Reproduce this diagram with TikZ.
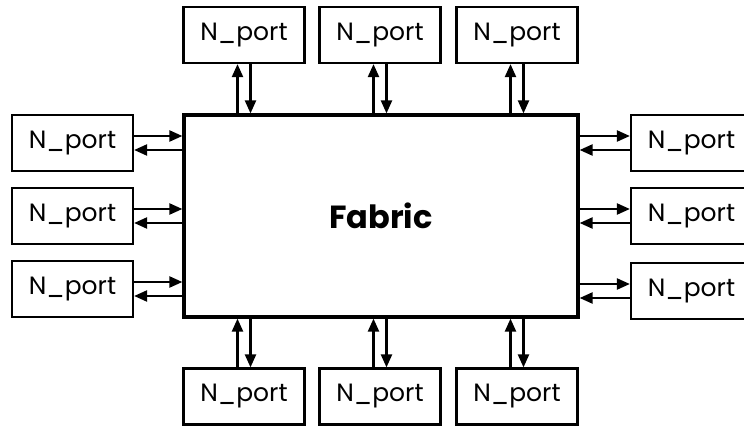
\documentclass[tikz,border=0pt]{standalone}
\usepackage{fontspec}
\setmainfont{Poppins}
\usetikzlibrary{arrows.meta}

\begin{document}
\begin{tikzpicture}[
  x=1pt,y=-1pt,
  port/.style={
    draw,
    line width=2.2pt,
    minimum width=121pt,
    minimum height=56pt,
    inner sep=0pt,
    font=\fontsize{25}{25}\selectfont
  },
  fabric/.style={
    draw,
    line width=3.2pt,
    minimum width=394pt,
    minimum height=202pt,
    font=\fontsize{32}{32}\selectfont\bfseries
  },
  link/.style={line width=2.2pt,-{Triangle[length=13pt,width=11pt]}}
]
  \useasboundingbox (0,0) rectangle (744,427);
  \clip (0,0) rectangle (744,427);

  \node[fabric] (fab) at (381,216) {Fabric};

  % Ports above and below the fabric.
  \foreach \i/\x in {1/244,2/380,3/517} {
    \node[port] (top\i) at (\x,35) {N\_port};
    \node[port] (bot\i) at (\x,396.5) {N\_port};
    \draw[link] ([xshift=-6.5pt]top\i.south |- fab.north)
      -- ([xshift=-6.5pt]top\i.south);
    \draw[link] ([xshift=6.5pt]top\i.south)
      -- ([xshift=6.5pt]top\i.south |- fab.north);
    \draw[link] ([xshift=-6.5pt]bot\i.north)
      -- ([xshift=-6.5pt]bot\i.north |- fab.south);
    \draw[link] ([xshift=6.5pt]bot\i.north |- fab.south)
      -- ([xshift=6.5pt]bot\i.north);
  }

  % Ports left and right of the fabric.
  \foreach \i/\yl/\yr in {1/143/143,2/216/216,3/289/291} {
    \node[port] (left\i) at (72.5,\yl) {N\_port};
    \node[port] (right\i) at (691.5,\yr) {N\_port};
    \draw[link] ([yshift=7pt]left\i.east)
      -- ([yshift=7pt]left\i.east -| fab.west);
    \draw[link] ([yshift=-7pt]left\i.east -| fab.west)
      -- ([yshift=-7pt]left\i.east);
    \draw[link] ([yshift=7pt]right\i.west -| fab.east)
      -- ([yshift=7pt]right\i.west);
    \draw[link] ([yshift=-7pt]right\i.west)
      -- ([yshift=-7pt]right\i.west -| fab.east);
  }
\end{tikzpicture}
\end{document}
